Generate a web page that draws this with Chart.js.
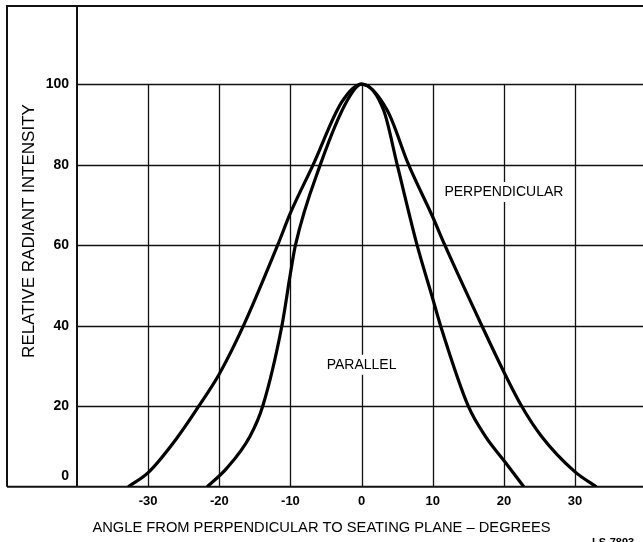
<!DOCTYPE html>
<html>
<head>
<meta charset="utf-8">
<script src="https://cdn.jsdelivr.net/npm/chart.js@4.4.1/dist/chart.umd.min.js"></script>
<style>
  html, body { margin: 0; padding: 0; background: #fff; overflow: hidden; }
</style>
</head>
<body>
<canvas id="chart" width="643" height="542"></canvas>
<script>
"use strict"

// axis ticks
const xTicks = [-40, -30, -20, -10, 0, 10, 20, 30];
const yTicks = [0, 20, 40, 60, 80, 100];

// perpendicular curve (wide one)
const perpAngle = [-32.8, -30, -26, -22.7, -20, -16.6, -11.8, -10, -6.8, -2.8, 0, 3.6, 6.6, 10, 11.7, 16.9, 20, 22.5, 25.3, 30, 33.0];
const perpValue = [0, 3.5, 12, 20.5, 28, 40, 60, 68, 80, 95.5, 100, 93.5, 80, 67, 60, 40, 28.5, 20, 12.5, 3.7, 0];

// parallel curve (narrow one)
const parAngle = [-21.7, -19, -15.7, -13.9, -11.2, -10, -9.3, -5.8, -2.0, 0, 3.1, 5.0, 7.8, 10, 11.1, 15, 17.4, 20, 22.8];
const parValue = [0, 4.5, 12.5, 20, 40, 53, 60, 80, 96, 100, 93.5, 80, 60, 46.7, 40, 20, 12.5, 6.5, 0];

// curve names written on the plot
const noteText = ['PERPENDICULAR', 'PARALLEL'];
const noteAngle = [20, 0];
const noteValue = [73.2, 30.3];

const yTitle = 'RELATIVE RADIANT INTENSITY';
const xTitle = 'ANGLE FROM PERPENDICULAR TO SEATING PLANE \u2013 DEGREES';
const figId = 'LS-7893';

const family = "'Liberation Sans', Arial, Helvetica, sans-serif";

function points(xs, ys) {
    return xs.map((v, i) => ({ x: v, y: ys[i] }));
};

const frame = {
    id: 'frame',
    beforeDatasetsDraw(chart) {
        const { ctx, chartArea: a, scales: { x, y } } = chart;
        ctx.save();

        // grid
        ctx.strokeStyle = '#111';
        ctx.lineWidth = 1.3;
        ctx.beginPath();
        yTicks.forEach(v => {
            if (v === 0) return;
            const py = Math.round(y.getPixelForValue(v)) + 0.5;
            ctx.moveTo(a.left, py);
            ctx.lineTo(a.right, py);
        });
        const top = Math.round(y.getPixelForValue(100));
        xTicks.forEach(v => {
            if (v === -40) return;
            const px = Math.round(x.getPixelForValue(v)) + 0.5;
            ctx.moveTo(px, top);
            ctx.lineTo(px, a.bottom);
        });
        ctx.stroke();

        // outer box
        ctx.lineWidth = 2;
        ctx.beginPath();
        ctx.moveTo(7, a.bottom);
        ctx.lineTo(7, a.top);
        ctx.lineTo(a.right, a.top);
        ctx.moveTo(7, a.bottom);
        ctx.lineTo(a.right, a.bottom);
        ctx.moveTo(a.left, a.top);
        ctx.lineTo(a.left, a.bottom);
        ctx.stroke();

        // curve names
        ctx.font = `14px ${family}`;
        ctx.textAlign = 'center';
        ctx.textBaseline = 'middle';
        noteText.forEach((t, i) => {
            const px = x.getPixelForValue(noteAngle[i]);
            const py = y.getPixelForValue(noteValue[i]);
            const w = ctx.measureText(t).width;
            ctx.fillStyle = '#fff';
            ctx.fillRect(px - w / 2 - 4, py - 10, w + 8, 20);
            ctx.fillStyle = '#000';
            ctx.fillText(t, px, py);
        });
        ctx.restore();
    },
    afterDraw(chart) {
        const { ctx } = chart;
        ctx.save();
        ctx.fillStyle = '#000';
        ctx.font = `17px ${family}`;
        ctx.textAlign = 'center';
        ctx.textBaseline = 'middle';
        ctx.translate(29, 231);
        ctx.rotate(-Math.PI / 2);
        ctx.fillText(yTitle, 0, 0);
        ctx.restore();

        ctx.save();
        ctx.fillStyle = '#000';
        ctx.font = `bold 11px ${family}`;
        ctx.textAlign = 'left';
        ctx.textBaseline = 'top';
        ctx.fillText(figId, 592, 537);
        ctx.restore();
    }
};

new Chart(document.getElementById('chart'), {
    type: 'line',
    data: {
        datasets: [{
            label: 'PERPENDICULAR',
            data: points(perpAngle, perpValue),
            borderColor: '#000',
            borderWidth: 3.2,
            pointRadius: 0,
            cubicInterpolationMode: 'monotone',
            fill: false
        }, {
            label: 'PARALLEL',
            data: points(parAngle, parValue),
            borderColor: '#000',
            borderWidth: 3.2,
            pointRadius: 0,
            cubicInterpolationMode: 'monotone',
            fill: false
        }]
    },
    options: {
        responsive: false,
        animation: false,
        devicePixelRatio: 1,
        layout: { padding: { top: 6, left: 0, right: 0, bottom: 0 } },
        plugins: {
            legend: { display: false },
            tooltip: { enabled: false },
            title: {
                display: true,
                position: 'bottom',
                text: xTitle,
                color: '#000',
                font: { family: family, size: 14.7, weight: 'normal' },
                padding: { top: 3, bottom: 5 }
            }
        },
        scales: {
            x: {
                type: 'linear',
                min: -40,
                max: 39.55,
                afterBuildTicks: s => { s.ticks = xTicks.map(v => ({ value: v })); },
                grid: { display: false, drawTicks: false },
                border: { display: false },
                ticks: {
                    padding: 7,
                    color: '#000',
                    font: { family: family, size: 13, weight: 'bold' },
                    maxRotation: 0,
                    autoSkip: false,
                    callback: v => v === -40 ? '' : String(v)
                }
            },
            y: {
                type: 'linear',
                min: 0,
                max: 119.4,
                afterBuildTicks: s => { s.ticks = yTicks.map(v => ({ value: v })); },
                afterFit: s => { s.width = 77; s.paddingTop = 0; s.paddingBottom = 0; },
                grid: { display: false, drawTicks: false },
                border: { display: false },
                ticks: {
                    padding: 8,
                    color: '#000',
                    font: { family: family, size: 14, weight: 'bold', lineHeight: 1.45 },
                    autoSkip: false,
                    callback: v => v === 0 ? ['0', ''] : String(v)
                }
            }
        }
    },
    plugins: [frame]
});
</script>
</body>
</html>
